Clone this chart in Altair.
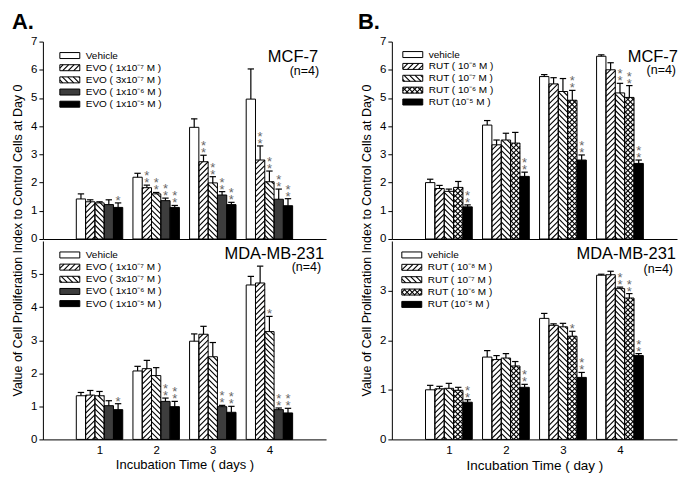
import math
import altair as alt
import pandas as pd

DAYS = [1, 2, 3, 4]

A_LABELS = ["Vehicle", "EVO ( 1x10⁻⁷ M )", "EVO ( 3x10⁻⁷ M )", "EVO ( 1x10⁻⁶ M )", "EVO ( 1x10⁻⁵ M )"]
B_LABELS = ["vehicle", "RUT ( 10⁻⁸ M )", "RUT ( 10⁻⁷ M )", "RUT ( 10⁻⁶ M )", "RUT (10⁻⁵ M )"]

A_PATTERNS = ["blank", "fwd", "back", "stipple", "solid"]
B_PATTERNS = ["blank", "fwd", "back", "cross", "solid"]

# Panel A, MCF-7 (EVO)
A_MCF7_MEAN = [
    [1.42, 2.19, 3.96, 4.96],
    [1.32, 1.82, 2.74, 2.80],
    [1.28, 1.60, 1.99, 2.03],
    [1.22, 1.36, 1.56, 1.41],
    [1.12, 1.12, 1.22, 1.18],
]
A_MCF7_SEM = [
    [0.18, 0.14, 0.30, 1.07],
    [0.07, 0.09, 0.23, 0.50],
    [0.04, 0.05, 0.22, 0.38],
    [0.17, 0.09, 0.12, 0.36],
    [0.16, 0.07, 0.08, 0.25],
]
A_MCF7_STARS = [
    [0, 0, 0, 0],
    [0, 2, 2, 2],
    [0, 2, 2, 2],
    [0, 2, 2, 2],
    [1, 2, 2, 2],
]

# Panel A, MDA-MB-231 (EVO)
A_MDA_MEAN = [
    [1.32, 2.07, 2.97, 4.67],
    [1.34, 2.14, 3.18, 4.73],
    [1.32, 1.93, 2.50, 3.26],
    [1.02, 1.15, 0.99, 0.90],
    [0.90, 0.99, 0.82, 0.80],
]
A_MDA_SEM = [
    [0.10, 0.14, 0.22, 0.26],
    [0.14, 0.25, 0.24, 0.51],
    [0.13, 0.24, 0.43, 0.46],
    [0.15, 0.10, 0.04, 0.05],
    [0.18, 0.16, 0.18, 0.14],
]
A_MDA_STARS = [
    [0, 0, 0, 0],
    [0, 0, 0, 0],
    [0, 0, 0, 1],
    [0, 2, 2, 2],
    [1, 2, 2, 2],
]

# Panel B, MCF-7 (RUT)
B_MCF7_MEAN = [
    [2.00, 4.04, 5.76, 6.48],
    [1.79, 3.34, 5.50, 6.00],
    [1.69, 3.51, 5.23, 5.18],
    [1.83, 3.40, 4.92, 5.02],
    [1.14, 2.22, 2.80, 2.68],
]
B_MCF7_SEM = [
    [0.12, 0.16, 0.07, 0.05],
    [0.11, 0.17, 0.22, 0.25],
    [0.08, 0.24, 0.46, 0.34],
    [0.21, 0.38, 0.35, 0.42],
    [0.07, 0.15, 0.18, 0.12],
]
B_MCF7_STARS = [
    [0, 0, 0, 0],
    [0, 0, 0, 0],
    [0, 0, 0, 2],
    [0, 0, 2, 2],
    [2, 2, 2, 2],
]

# Panel B, MDA-MB-231 (RUT)
B_MDA_MEAN = [
    [1.00, 1.66, 2.44, 3.31],
    [1.02, 1.61, 2.30, 3.32],
    [1.03, 1.64, 2.27, 3.04],
    [0.99, 1.48, 2.08, 2.85],
    [0.75, 1.05, 1.25, 1.69],
]
B_MDA_SEM = [
    [0.09, 0.13, 0.10, 0.02],
    [0.05, 0.08, 0.03, 0.07],
    [0.10, 0.09, 0.07, 0.03],
    [0.06, 0.09, 0.10, 0.09],
    [0.05, 0.06, 0.10, 0.04],
]
B_MDA_STARS = [
    [0, 0, 0, 0],
    [0, 0, 0, 0],
    [0, 0, 0, 2],
    [0, 0, 1, 2],
    [2, 2, 2, 2],
]

Y_TITLE = "Value of Cell Proliferation Index to Control Cells at Day 0"

FONT = "Liberation Sans"

FILLS = {"blank": "white", "fwd": "white", "back": "white", "cross": "white",
         "stipple": "#3d3d3d", "solid": "black"}
HATCH = {"fwd": ["fwd"], "back": ["back"], "cross": ["fwd", "back"]}


def hatch_lines(x0, x1, y0, y1, direction, kx, ky, s):
    X0, X1, Y0, Y1 = x0 * kx, x1 * kx, y0 * ky, y1 * ky
    step = s * math.sqrt(2)
    out = []
    if direction == "fwd":
        cmin, cmax = Y0 - X1, Y1 - X0
        k = math.ceil(cmin / step)
        while k * step <= cmax:
            c = k * step
            lo, hi = max(X0, Y0 - c), min(X1, Y1 - c)
            if hi - lo > 0.4:
                out.append((lo / kx, (lo + c) / ky, hi / kx, (hi + c) / ky))
            k += 1
    else:
        cmin, cmax = Y0 + X0, Y1 + X1
        k = math.ceil(cmin / step)
        while k * step <= cmax:
            c = k * step
            lo, hi = max(X0, c - Y1), min(X1, c - Y0)
            if hi - lo > 0.4:
                out.append((lo / kx, (c - lo) / ky, hi / kx, (c - hi) / ky))
            k += 1
    return out


def make_panel(means, sems, stars, labels, patterns, ymax, yvals, W, H,
               top, name, name_pos, n_pos, legend_x, legend_top, legend_step,
               xtitle=None, xtitle_size=13, letter=None, letter_x=0):
    kx = W / 5.0
    ky = H / ymax
    bw = 0.82 / 5
    rects, errs, star_rows, leg = [], [], [], []
    for s in range(5):
        for d in range(4):
            x0 = DAYS[d] - 0.41 + s * bw
            m = means[s][d]
            t = m + sems[s][d]
            xc = x0 + bw / 2
            rects.append(dict(x0=x0, x1=x0 + bw, y0=0.0, y1=m, pat=patterns[s]))
            errs.append(dict(xc=xc, m=m, t=t, cl=xc - 3.2 / kx, cr=xc + 3.2 / kx))
            if stars[s][d] > 0:
                star_rows.append(dict(xc=xc, t=t, n=stars[s][d],
                                      s="\n".join(["*"] * stars[s][d])))
        row = legend_top + legend_step * s
        rects.append(dict(x0=legend_x / kx, x1=(legend_x + 20) / kx,
                          y0=(H - row - 3) / ky, y1=(H - row + 3) / ky, pat=patterns[s]))
        leg.append(dict(lx=(legend_x + 26) / kx, ly=(H - row) / ky, label=labels[s]))

    rect_df = pd.DataFrame(rects)
    rect_df["fill"] = rect_df["pat"].map(FILLS)
    segs = []
    for r in rects:
        for dirn in HATCH.get(r["pat"], []):
            sp = 3.6 if r["pat"] == "cross" else 3.9
            for (a, b, c, e) in hatch_lines(r["x0"], r["x1"], r["y0"], r["y1"], dirn, kx, ky, sp):
                segs.append(dict(hx=a, hy=b, hx2=c, hy2=e, pat=r["pat"]))
    seg_df = pd.DataFrame(segs)
    err_df = pd.DataFrame(errs)
    star_df = pd.DataFrame(star_rows)
    star1_df = star_df[star_df["n"] == 1]
    star2_df = star_df[star_df["n"] == 2]
    leg_df = pd.DataFrame(leg)

    xscale = alt.Scale(domain=[0, 5], nice=False, zero=False)
    yscale = alt.Scale(domain=[0, ymax], nice=False)
    if top:
        xaxis = alt.Axis(values=DAYS, labels=False, ticks=False, title=None, grid=False,
                         domainColor="black", domainWidth=1)
        yaxis = alt.Axis(values=yvals, tickSize=4, tickColor="black", grid=False,
                         domainColor="black", domainWidth=1, labelColor="black",
                         labelFont=FONT, labelFontSize=11.5, labelPadding=2,
                         title=Y_TITLE, titleFont=FONT, titleFontSize=12.5,
                         titleFontWeight="normal", titleColor="black",
                         titleAngle=270, titleAlign="center", titleBaseline="bottom",
                         titleX=-18, titleY=H + 1)
    else:
        xaxis = alt.Axis(values=DAYS, labels=True, ticks=False, title=xtitle, grid=False,
                         domainColor="black", domainWidth=1, labelColor="black",
                         labelFont=FONT, labelFontSize=11.5, labelPadding=5,
                         titleFont=FONT, titleFontSize=xtitle_size,
                         titleFontWeight="normal", titleColor="black", titlePadding=3)
        yaxis = alt.Axis(values=yvals, tickSize=4, tickColor="black", grid=False,
                         domainColor="black", domainWidth=1, labelColor="black",
                         labelFont=FONT, labelFontSize=11.5, labelPadding=2, title=None)

    def X(f):
        return alt.X(f, type="quantitative", scale=xscale, axis=xaxis)

    def Y(f):
        return alt.Y(f, type="quantitative", scale=yscale, axis=yaxis)

    fills = alt.Chart(rect_df).mark_rect(strokeWidth=0).encode(
        x=X("x0"), x2="x1", y=Y("y0"), y2="y1",
        fill=alt.Fill("fill:N", scale=None))
    hatch = alt.Chart(seg_df).mark_rule(color="black", strokeWidth=1.1).encode(
        x=X("hx"), y=Y("hy"), x2="hx2", y2="hy2")
    outline = alt.Chart(rect_df).mark_rect(fillOpacity=0, stroke="black", strokeWidth=1).encode(
        x=X("x0"), x2="x1", y=Y("y0"), y2="y1")
    evert = alt.Chart(err_df).mark_rule(color="black", strokeWidth=1.2).encode(
        x=X("xc"), y=Y("m"), y2="t")
    ecap = alt.Chart(err_df).mark_rule(color="black", strokeWidth=1.2).encode(
        x=X("cl"), x2="cr", y=Y("t"))
    layers = [fills, hatch, outline, evert, ecap]
    if len(star1_df):
        layers.append(alt.Chart(star1_df).mark_text(
            font=FONT, fontSize=13, color="#666", baseline="alphabetic", dy=2).encode(
            x=X("xc"), y=Y("t"), text="s:N"))
    if len(star2_df):
        layers.append(alt.Chart(star2_df).mark_text(
            font=FONT, fontSize=13, color="#666", baseline="alphabetic",
            lineBreak="\n", lineHeight=7, dy=-5).encode(
            x=X("xc"), y=Y("t"), text="s:N"))
    legt = alt.Chart(leg_df).mark_text(font=FONT, fontSize=10, color="black",
                                       align="left", baseline="middle").encode(
        x=X("lx"), y=Y("ly"), text="label:N")
    names = pd.DataFrame({"t": [name, "(n=4)"]})
    nm = alt.Chart(names.iloc[[0]]).mark_text(font=FONT, fontSize=16.5, color="black",
                                             align="right", baseline="alphabetic").encode(
        x=alt.value(name_pos[0]), y=alt.value(name_pos[1]), text="t:N")
    nn = alt.Chart(names.iloc[[1]]).mark_text(font=FONT, fontSize=12.5, color="black",
                                             align="right", baseline="alphabetic").encode(
        x=alt.value(n_pos[0]), y=alt.value(n_pos[1]), text="t:N")
    layers += [legt, nm, nn]
    if letter:
        lt = alt.Chart(pd.DataFrame({"t": [letter]})).mark_text(
            font=FONT, fontSize=22, fontWeight="bold", color="black",
            align="left", baseline="alphabetic").encode(
            x=alt.value(letter_x), y=alt.value(-13), text="t:N")
        layers.append(lt)
    return alt.layer(*layers).properties(width=W, height=H)


WA, WB = 284, 286
HT, HB = 198, 199

a_top = make_panel(A_MCF7_MEAN, A_MCF7_SEM, A_MCF7_STARS, A_LABELS, A_PATTERNS, 7, list(range(8)),
                   WA, HT, True, "MCF-7", (WA - 8, 20), (WA - 7, 34), 17, 14, 12.2,
                   letter="A.", letter_x=-31)
a_bot = make_panel(A_MDA_MEAN, A_MDA_SEM, A_MDA_STARS, A_LABELS, A_PATTERNS, 6, list(range(6)),
                   WA, HB, False, "MDA-MB-231", (WA - 2, 18), (WA - 5, 30), 17, 14, 12.2,
                   xtitle="Incubation Time ( days )", xtitle_size=13)
b_top = make_panel(B_MCF7_MEAN, B_MCF7_SEM, B_MCF7_STARS, B_LABELS, B_PATTERNS, 7, list(range(8)),
                   WB, HT, True, "MCF-7", (WB + 1, 20), (WB - 1, 33), 11, 13, 11.9,
                   letter="B.", letter_x=-34)
b_bot = make_panel(B_MDA_MEAN, B_MDA_SEM, B_MDA_STARS, B_LABELS, B_PATTERNS, 4, list(range(4)),
                   WB, HB, False, "MDA-MB-231", (WB - 1, 18), (WB - 4, 32), 10, 14, 12.4,
                   xtitle="Incubation Time ( day )", xtitle_size=13.5)

chart = alt.concat(a_top, b_top, a_bot, b_bot, columns=2, bounds="flush",
                   spacing={"row": 2, "column": 66}).properties(
    padding={"left": 3, "top": 2, "right": 0, "bottom": 0}
).configure_view(strokeWidth=0)

chart.save("out.html", embed_options={"renderer": "svg", "actions": False})
